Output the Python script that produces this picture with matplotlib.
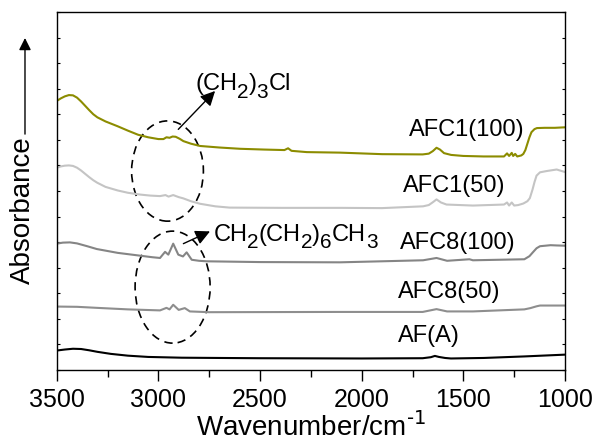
import matplotlib

matplotlib.use("Agg")
import matplotlib.pyplot as plt
from matplotlib.font_manager import FontProperties
from matplotlib.patches import Ellipse
from matplotlib.ticker import MultipleLocator

plt.rcParams["font.family"] = ["Liberation Sans", "DejaVu Sans"]

# spectra (wavenumber, stacked absorbance)
wn_afc1_100 = [3500, 3480, 3460, 3440, 3420, 3400, 3380, 3360, 3340, 3320,
               3300, 3260, 3200, 3150, 3100, 3050, 3000, 2975, 2960, 2945,
               2930, 2915, 2895, 2877, 2840, 2795, 2700, 2598, 2480, 2380,
               2362, 2345, 2270, 2107, 1900, 1700, 1670, 1650, 1632, 1615,
               1595, 1560, 1500, 1400, 1300, 1285, 1275, 1262, 1255, 1245,
               1235, 1215, 1205, 1195, 1185, 1175, 1165, 1150, 1138, 1100,
               1050, 1000]
abs_afc1_100 = [10.52, 10.62, 10.70, 10.75, 10.74, 10.65, 10.50, 10.33, 10.16, 10.00,
                9.88, 9.72, 9.53, 9.36, 9.20, 9.10, 9.03, 9.03, 9.10, 9.08,
                9.13, 9.12, 9.04, 8.95, 8.85, 8.76, 8.70, 8.65, 8.62, 8.60,
                8.67, 8.57, 8.52, 8.50, 8.44, 8.43, 8.46, 8.56, 8.69, 8.62,
                8.48, 8.41, 8.37, 8.35, 8.35, 8.47, 8.37, 8.49, 8.37, 8.45,
                8.35, 8.39, 8.45, 8.60, 8.85, 9.10, 9.30, 9.42, 9.46, 9.47,
                9.47, 9.49]

wn_afc1_50 = [3500, 3480, 3460, 3440, 3420, 3400, 3380, 3360, 3340, 3320,
              3300, 3260, 3200, 3150, 3090, 3040, 2992, 2965, 2950, 2927,
              2900, 2877, 2840, 2795, 2720, 2650, 2400, 2107, 1900, 1698,
              1670, 1650, 1632, 1610, 1583, 1453, 1300, 1285, 1275, 1262,
              1250, 1230, 1205, 1185, 1173, 1160, 1150, 1140, 1123, 1090,
              1041, 1000]
abs_afc1_50 = [7.91, 7.96, 7.99, 8.00, 7.98, 7.91, 7.80, 7.67, 7.54, 7.42,
               7.32, 7.16, 7.02, 6.93, 6.86, 6.82, 6.80, 6.84, 6.78, 6.84,
               6.76, 6.71, 6.60, 6.50, 6.40, 6.35, 6.34, 6.34, 6.33, 6.40,
               6.45, 6.56, 6.67, 6.55, 6.47, 6.43, 6.47, 6.55, 6.43, 6.55,
               6.43, 6.45, 6.51, 6.60, 6.72, 7.05, 7.35, 7.60, 7.73, 7.78,
               7.84, 7.74]

wn_afc8_100 = [3500, 3470, 3435, 3400, 3350, 3303, 3200, 3100, 3030, 2992,
               2967, 2951, 2927, 2902, 2879, 2861, 2836, 2800, 2762, 2500,
               2107, 1698, 1632, 1580, 1470, 1453, 1200, 1175, 1156, 1140,
               1123, 1071, 1041, 1000]
abs_afc8_100 = [4.94, 4.98, 4.99, 4.95, 4.84, 4.73, 4.58, 4.48, 4.41, 4.38,
                4.62, 4.51, 4.94, 4.51, 4.44, 4.60, 4.31, 4.27, 4.25, 4.22,
                4.21, 4.29, 4.38, 4.27, 4.33, 4.29, 4.33, 4.45, 4.62, 4.76,
                4.84, 4.88, 4.87, 4.86]

wn_afc8_50 = [3500, 3400, 3303, 3150, 2992, 2960, 2945, 2927, 2900, 2870,
              2845, 2750, 2107, 1700, 1632, 1580, 1453, 1200, 1170, 1140,
              1123, 1000]
abs_afc8_50 = [2.48, 2.47, 2.43, 2.37, 2.33, 2.43, 2.37, 2.55, 2.35, 2.42,
               2.29, 2.26, 2.27, 2.27, 2.38, 2.29, 2.29, 2.37, 2.42, 2.49,
               2.52, 2.52]

wn_af = [3500, 3460, 3420, 3380, 3340, 3300, 3234, 3150, 3050, 2885,
         2700, 2500, 2000, 1700, 1660, 1640, 1620, 1590, 1561, 1400,
         1200, 1000]
abs_af = [0.76, 0.80, 0.83, 0.82, 0.77, 0.71, 0.63, 0.56, 0.51, 0.48,
          0.47, 0.46, 0.45, 0.46, 0.50, 0.55, 0.51, 0.47, 0.45, 0.47,
          0.53, 0.60]

sample_names = ["AFC1(100)", "AFC1(50)", "AFC8(100)", "AFC8(50)", "AF(A)"]
sample_colors = ["#8c8c00", "#c4c4c4", "#858585", "#8e8e8e", "#000000"]
name_wn = [1767, 1796, 1812, 1822, 1822]
name_y = [9.37, 7.18, 4.98, 3.06, 1.33]

# group labels: (text, is_subscript)
ch2_3cl = [("(CH", False), ("2", True), (")", False), ("3", True),
           ("Cl", False)]
ch2_6ch3 = [("CH", False), ("2", True), ("(CH", False), ("2", True),
            (")", False), ("6", True), ("CH", False), ("3", True)]

fig = plt.figure(figsize=(5.95, 4.47), dpi=100)
ax = fig.add_axes([0.0953, 0.1723, 0.8543, 0.8009])
renderer = fig.canvas.get_renderer()


def chem_label(x, y, parts, size=17):
    """Write a formula with big, low subscripts, piece by piece."""
    dx = 0.0
    for s, sub in parts:
        fs = size * 0.88 if sub else size
        ax.annotate(s, (x, y), xytext=(dx, -0.33 * size if sub else 0),
                    textcoords="offset points", fontsize=fs,
                    ha="left", va="baseline")
        prop = FontProperties(family="Liberation Sans", size=fs)
        w, _, _ = renderer.get_text_width_height_descent(s, prop, ismath=False)
        dx += w * 72 / fig.dpi


spectra = [
    (wn_afc1_100, abs_afc1_100),
    (wn_afc1_50, abs_afc1_50),
    (wn_afc8_100, abs_afc8_100),
    (wn_afc8_50, abs_afc8_50),
    (wn_af, abs_af),
]
for (wn, ab), color in zip(spectra, sample_colors):
    ax.plot(wn, ab, color=color, lw=1.5)

for name, x, y in zip(sample_names, name_wn, name_y):
    ax.text(x, y, name, fontsize=17, ha="left", va="center")

# dashed ellipses around the C-H stretching bands
ax.add_patch(Ellipse((2955, 7.78), 353, 3.92, fill=False, ls=(0, (5, 3.5)),
                     lw=1.2, color="black"))
ax.add_patch(Ellipse((2930, 3.24), 369, 4.38, fill=False, ls=(0, (5, 3.5)),
                     lw=1.2, color="black"))

ax.annotate("", xy=(2721, 10.91), xytext=(2902, 9.41),
            arrowprops=dict(arrowstyle="-|>", color="black", lw=1,
                            mutation_scale=22, shrinkA=0, shrinkB=0))
ax.annotate("", xy=(2746, 5.42), xytext=(2877, 4.94),
            arrowprops=dict(arrowstyle="-|>", color="black", lw=1,
                            mutation_scale=22, shrinkA=0, shrinkB=0))
chem_label(2819, 10.94, ch2_3cl)
chem_label(2730, 5.06, ch2_6ch3)

ax.set_xlim(3500, 1000)
ax.set_ylim(0, 14)
ax.xaxis.set_major_locator(MultipleLocator(500))
ax.xaxis.set_minor_locator(MultipleLocator(250))
ax.yaxis.set_major_locator(MultipleLocator(1))
ax.tick_params(axis="x", which="major", direction="out", length=8, width=1,
               labelsize=18, pad=5)
ax.tick_params(axis="x", which="minor", direction="out", length=5, width=1)
ax.tick_params(axis="y", which="both", direction="in", length=2.5, width=0.8,
               left=True, right=True, labelleft=False)
for spine in ax.spines.values():
    spine.set_linewidth(1)

ax.set_xlabel(r"Wavenumber/cm$^\text{-1}$", fontsize=20, labelpad=0)

fig.text(0.0387, 0.53, "Absorbance", rotation=90, fontsize=20,
         ha="center", va="center")
fig.add_artist(plt.Annotation(
    "", xy=(0.042, 0.915), xytext=(0.042, 0.70),
    xycoords="figure fraction", textcoords="figure fraction",
    arrowprops=dict(arrowstyle="-|>", color="black", lw=1,
                    mutation_scale=18, shrinkA=0, shrinkB=0)))

fig.savefig("out.png", dpi=100)
